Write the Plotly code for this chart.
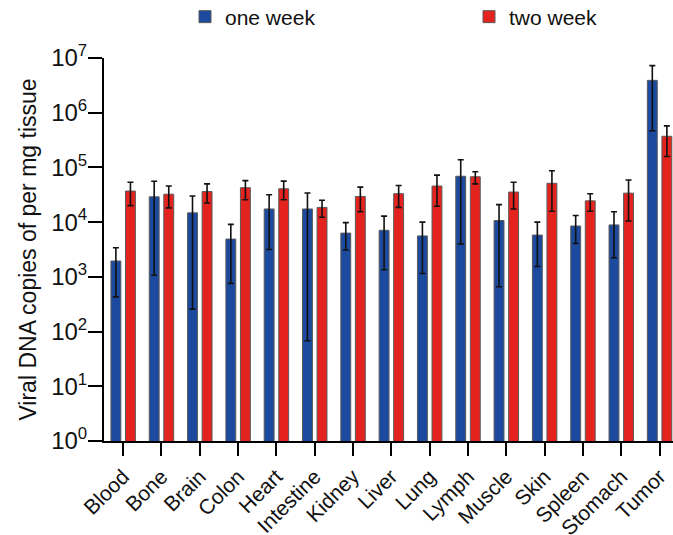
import plotly.graph_objects as go

categories = ["Blood", "Bone", "Brain", "Colon", "Heart", "Intestine", "Kidney",
              "Liver", "Lung", "Lymph", "Muscle", "Skin", "Spleen", "Stomach", "Tumor"]

one_week_mean = [1950, 29000, 14800, 4900, 17400, 17400, 6300, 7100, 5600, 69000,
                 10700, 5800, 8500, 8900, 3900000]
one_week_upper = [3400, 56000, 30000, 9100, 31600, 34000, 9800, 12900, 10000, 138000,
                  20900, 10000, 13200, 15500, 7240000]
one_week_lower = [430, 1070, 257, 760, 3160, 68, 3090, 1350, 1150, 4000,
                  660, 1550, 4070, 2240, 468000]

two_week_mean = [37000, 32400, 36300, 42700, 40700, 18600, 29500, 33100, 45700, 67600,
                 35500, 51300, 24500, 33900, 371000]
two_week_upper = [53700, 45700, 50100, 57500, 56200, 25100, 43700, 46800, 72400, 83200,
                  53700, 87100, 33100, 58900, 575000]
two_week_lower = [20000, 18200, 22400, 25700, 25700, 12300, 15500, 18600, 19500, 50100,
                  17400, 15800, 15800, 10500, 158000]

y_tick_vals = [1, 10, 100, 1e3, 1e4, 1e5, 1e6, 1e7]
y_tick_text = ["10<sup>%d</sup>" % i for i in range(8)]

FONT = "Liberation Sans, Arial, sans-serif"
W, H = 673, 535


def err(mean, up, lo):
    return dict(type="data", symmetric=False,
                array=[u - m for u, m in zip(up, mean)],
                arrayminus=[m - l for m, l in zip(mean, lo)],
                color="#111111", thickness=1.6, width=3)


fig = go.Figure()
fig.add_trace(go.Bar(
    x=categories, y=one_week_mean, name="one week", legend="legend",
    marker=dict(color="#1c4a9e", line=dict(color="#5a5a5a", width=1)),
    error_y=err(one_week_mean, one_week_upper, one_week_lower),
))
fig.add_trace(go.Bar(
    x=categories, y=two_week_mean, name="two week", legend="legend2",
    marker=dict(color="#e4221e", line=dict(color="#5a5a5a", width=1)),
    error_y=err(two_week_mean, two_week_upper, two_week_lower),
))

leg_common = dict(orientation="h", xref="container", yref="container",
                  xanchor="left", yanchor="middle",
                  font=dict(size=21, family=FONT, color="#111111"),
                  bgcolor="rgba(0,0,0,0)", borderwidth=0)

fig.update_layout(
    width=W, height=H,
    margin=dict(l=104, r=0, t=58, b=94, autoexpand=False),
    paper_bgcolor="white", plot_bgcolor="white",
    font=dict(family=FONT, color="#111111"),
    barmode="group", bargap=0.24, bargroupgap=0.32,
    showlegend=True,
    legend=dict(x=185 / W, y=1 - 17 / H, **leg_common),
    legend2=dict(x=469 / W, y=1 - 17 / H, **leg_common),
)

fig.update_xaxes(
    type="category", range=[-0.5, 14.35], automargin=False,
    showline=True, linecolor="black", linewidth=2,
    ticks="outside", ticklen=13, tickwidth=2, tickcolor="black",
    tickangle=-45, tickfont=dict(size=21, family=FONT, color="#111111"),
    showgrid=False, zeroline=False,
)
fig.update_yaxes(
    type="log", range=[0, 7], automargin=False,
    tickvals=y_tick_vals, ticktext=y_tick_text,
    showline=True, linecolor="black", linewidth=2,
    ticks="outside", ticklen=14, tickwidth=2, tickcolor="black",
    ticklabelstandoff=-4,
    tickfont=dict(size=24, family=FONT, color="#111111"),
    showgrid=False, zeroline=False,
    title=dict(text="Viral DNA copies of per mg tissue",
               font=dict(size=23, family=FONT, color="#111111"), standoff=8),
)

# remove the default page margin so the 673x535 figure fills the window exactly
fig.write_html("out.html",
               config={"displayModeBar": False},
               post_script="document.body.style.margin='0';"
                           "document.body.style.overflow='hidden';")
